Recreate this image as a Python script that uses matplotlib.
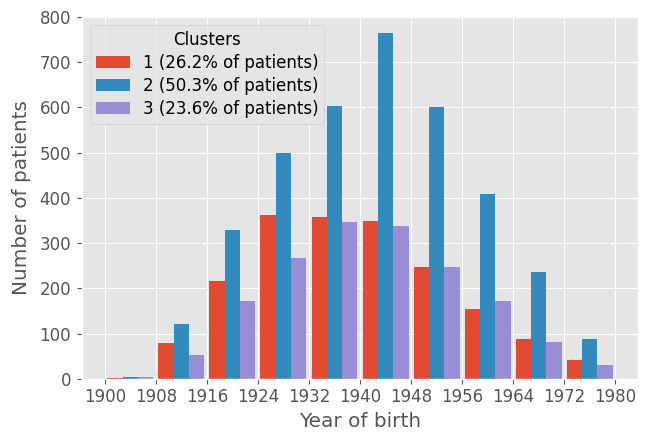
import matplotlib
matplotlib.use("Agg")
import matplotlib.pyplot as plt
import numpy as np

plt.style.use("ggplot")
plt.rcParams["font.size"] = 12

# Bin edges (year of birth) and counts per cluster
bin_edges = [1900, 1908, 1916, 1924, 1932, 1940, 1948, 1956, 1964, 1972, 1980]
cluster1 = [2, 80, 217, 362, 358, 349, 247, 154, 88, 41]
cluster2 = [5, 122, 329, 498, 604, 764, 600, 409, 236, 88]
cluster3 = [5, 53, 172, 267, 347, 338, 247, 172, 81, 30]
labels = [
    "1 (26.2% of patients)",
    "2 (50.3% of patients)",
    "3 (23.6% of patients)",
]

edges = np.array(bin_edges)
centers = (edges[:-1] + edges[1:]) / 2

fig, ax = plt.subplots(figsize=(6.51, 4.43), dpi=100)
ax.hist(
    [centers, centers, centers],
    bins=edges,
    weights=[cluster1, cluster2, cluster3],
    rwidth=0.9,
    label=labels,
)
ax.set_xticks(bin_edges)
ax.set_ylim(0, 800)
ax.tick_params(axis="y", pad=4.5)
ax.set_xlabel("Year of birth")
ax.set_ylabel("Number of patients", labelpad=6)
ax.legend(title="Clusters", loc="upper left", title_fontsize=12,
          labelspacing=0.3, borderpad=0.35)
fig.subplots_adjust(left=0.126, right=0.98, top=0.962, bottom=0.145)
fig.savefig("out.png", dpi=100)
